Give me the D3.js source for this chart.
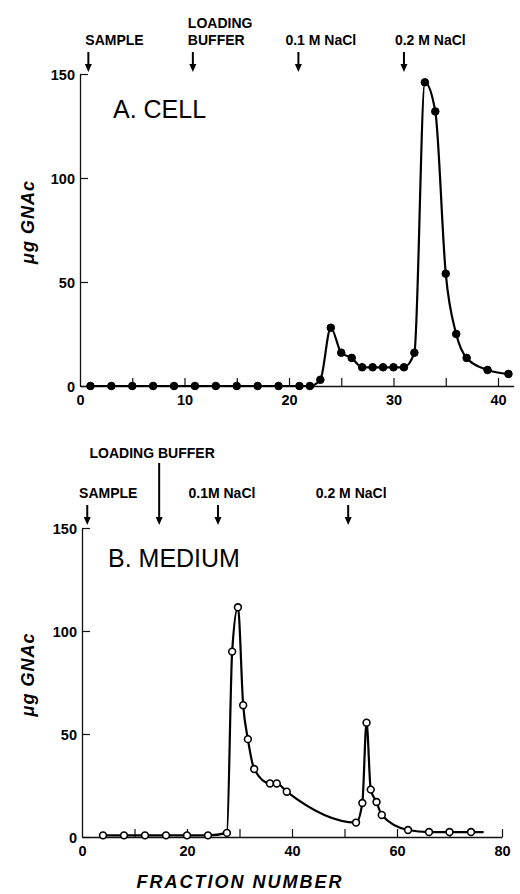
<!DOCTYPE html>
<html>
<head>
<meta charset="utf-8">
<script src="https://cdn.jsdelivr.net/npm/d3@7"></script>
<style>
	body { margin: 0; background: #fff; }
	svg { display: block; font-family: "Liberation Sans", Arial, sans-serif; }
</style>
</head>
<body>
<script>
// A. CELL
var cellFraction = [1,3,5,7,9,11,13,15,17,19,21,22,23,24,25,26,27,28,29,30,31,32,33,34,35,36,37,39,41];
var cellGNAc     = [0,0,0,0,0,0,0,0,0,0,0,0,3,28,16,13.5,9,9,9,9,9,16,146,132,54,25,13.5,7.7,5.8];
var cellTicks = [0,5,10,15,20,25,30,35,40];
var cellTickLabels = [0,10,20,30,40];
var cellEvents = [["SAMPLE"], ["LOADING","BUFFER"], ["0.1 M NaCl"], ["0.2 M NaCl"]];
var cellEventFractions = [0.8, 10.8, 20.9, 31];

// B. MEDIUM
var mediumFraction = [4,8,12,16,20,24,27.6,28.6,29.7,30.7,31.6,32.8,35.8,37.1,39,52.2,53.4,54.2,55,56.1,57.1,62.1,66.1,70,74.1];
var mediumGNAc     = [0.8,0.8,0.8,0.8,0.8,0.8,2,90,111.5,64,47.5,33,26,26,22,7,16.5,55.5,23,17,10.7,3.4,2.4,2.4,2.4];
var mediumLineEnd = [76.5, 2.4];
var mediumTicks = [0,10,20,30,40,50,60,70,80];
var mediumTickLabels = [0,20,40,60,80];
var mediumEvents = [["SAMPLE"], ["LOADING  BUFFER"], ["0.1M NaCl"], ["0.2 M NaCl"]];
var mediumEventFractions = [1, 14.7, 25.9, 50.7];

var yTicks = [0,50,100,150];

var w = 520;
var h = 894;

var svg = d3.select("body")
			.append("svg")
			.attr("width", w)
			.attr("height", h);

function drawArrow(g, x, y1, y2){
	g.append("line")
		.attr("x1", x).attr("x2", x)
		.attr("y1", y1).attr("y2", y2 - 5)
		.attr("stroke", "black")
		.attr("stroke-width", 2);
	g.append("path")
		.attr("d", "M" + (x - 3.5) + "," + (y2 - 8) + "L" + (x + 3.5) + "," + (y2 - 8) + "L" + x + "," + y2 + "Z")
		.attr("fill", "black");
}

function drawPanel(p){
	var g = svg.append("g");

	var xScale = d3.scaleLinear()
					.domain(p.xDomain)
					.range(p.xRange);
	var yScale = d3.scaleLinear()
					.domain([0, 150])
					.range(p.yRange);

	var xAxis = d3.axisBottom(xScale)
					.tickValues(p.ticks)
					.tickFormat(function(d){ return p.tickLabels.indexOf(d) >= 0 ? d : ""; })
					.tickSizeInner(-8)
					.tickSizeOuter(0)
					.tickPadding(9);
	var yAxis = d3.axisLeft(yScale)
					.tickValues(yTicks)
					.tickSizeInner(-8)
					.tickSizeOuter(0)
					.tickPadding(5);

	var xg = g.append("g")
			.attr("transform", "translate(0," + p.yRange[0] + ")")
			.call(xAxis);
	var yg = g.append("g")
			.attr("transform", "translate(" + p.xRange[0] + ",0)")
			.call(yAxis);

	[xg, yg].forEach(function(a){
		a.select(".domain").attr("stroke", "#111").attr("stroke-width", 1.3);
		a.selectAll(".tick line").attr("stroke", "#111").attr("stroke-width", 1.2);
		a.selectAll(".tick text")
			.attr("fill", "black")
			.attr("font-size", 14.5)
			.attr("font-weight", "bold")
			.attr("font-family", "Liberation Sans, Arial, sans-serif");
	});
	xg.selectAll(".tick")
		.filter(function(d){ return d === 0; })
		.select("line").remove();
	yg.selectAll(".tick text").attr("dy", "0.36em");

	var pts = p.fraction.map(function(f, i){ return {x: f, y: p.values[i]}; });
	var linePts = p.lineEnd ? pts.concat([{x: p.lineEnd[0], y: p.lineEnd[1]}]) : pts;

	var line = d3.line()
				.x(function(d){ return xScale(d.x); })
				.y(function(d){ return yScale(d.y); })
				.curve(d3.curveMonotoneX);

	g.append("path")
		.datum(linePts)
		.attr("d", line)
		.attr("fill", "none")
		.attr("stroke", "black")
		.attr("stroke-width", 2.2);

	g.selectAll(".pt")
		.data(pts)
		.enter()
		.append("circle")
		.attr("class", "pt")
		.attr("cx", function(d){ return xScale(d.x); })
		.attr("cy", function(d){ return yScale(d.y); })
		.attr("r", p.open ? 3.4 : 3.8)
		.attr("fill", p.open ? "white" : "black")
		.attr("stroke", "black")
		.attr("stroke-width", p.open ? 1.6 : 1);

	// panel title
	g.append("text")
		.attr("x", p.titleX)
		.attr("y", p.titleY)
		.attr("font-size", 25)
		.text(p.title);

	// y axis title
	var ym = (p.yRange[0] + p.yRange[1]) / 2 - 8;
	g.append("text")
		.attr("transform", "translate(34," + ym + ") rotate(-90)")
		.attr("text-anchor", "middle")
		.attr("font-size", 18)
		.attr("font-weight", "bold")
		.attr("font-style", "italic")
		.attr("letter-spacing", 1)
		.text("\u03bcg  GNAc");

	// event arrows
	p.events.forEach(function(lines, i){
		var ax = xScale(p.eventFractions[i]);
		var a = p.arrows[i];
		drawArrow(g, ax, a[0], a[1]);
		lines.forEach(function(t, j){
			g.append("text")
				.attr("x", ax + p.labelDx[i])
				.attr("y", p.labelY[i] + j * 17)
				.attr("text-anchor", p.anchor)
				.attr("font-size", 14)
				.attr("font-weight", "bold")
				.text(t);
		});
	});
}

drawPanel({
	fraction: cellFraction, values: cellGNAc, open: false,
	xDomain: [0, 41.5], xRange: [80, 80 + 41.5 * 10.45], yRange: [386, 74],
	ticks: cellTicks, tickLabels: cellTickLabels,
	title: "A. CELL", titleX: 113, titleY: 118,
	events: cellEvents, eventFractions: cellEventFractions,
	arrows: [[52,72],[52,72],[52,72],[52,72]],
	labelY: [45, 28, 45, 45], labelDx: [-3, -5, -13, -9], anchor: "start"
});

drawPanel({
	fraction: mediumFraction, values: mediumGNAc, open: true, lineEnd: mediumLineEnd,
	xDomain: [0, 80], xRange: [82, 502], yRange: [837, 528],
	ticks: mediumTicks, tickLabels: mediumTickLabels,
	title: "B. MEDIUM", titleX: 108, titleY: 567,
	events: mediumEvents, eventFractions: mediumEventFractions,
	arrows: [[505,525],[463,525],[505,525],[505,525]],
	labelY: [498, 458, 498, 498], labelDx: [21, -7, 4, 3], anchor: "middle"
});

svg.append("text")
	.attr("x", 240)
	.attr("y", 888)
	.attr("text-anchor", "middle")
	.attr("font-size", 18)
	.attr("font-weight", "bold")
	.attr("font-style", "italic")
	.attr("letter-spacing", 2)
	.text("FRACTION  NUMBER");
</script>
</body>
</html>
